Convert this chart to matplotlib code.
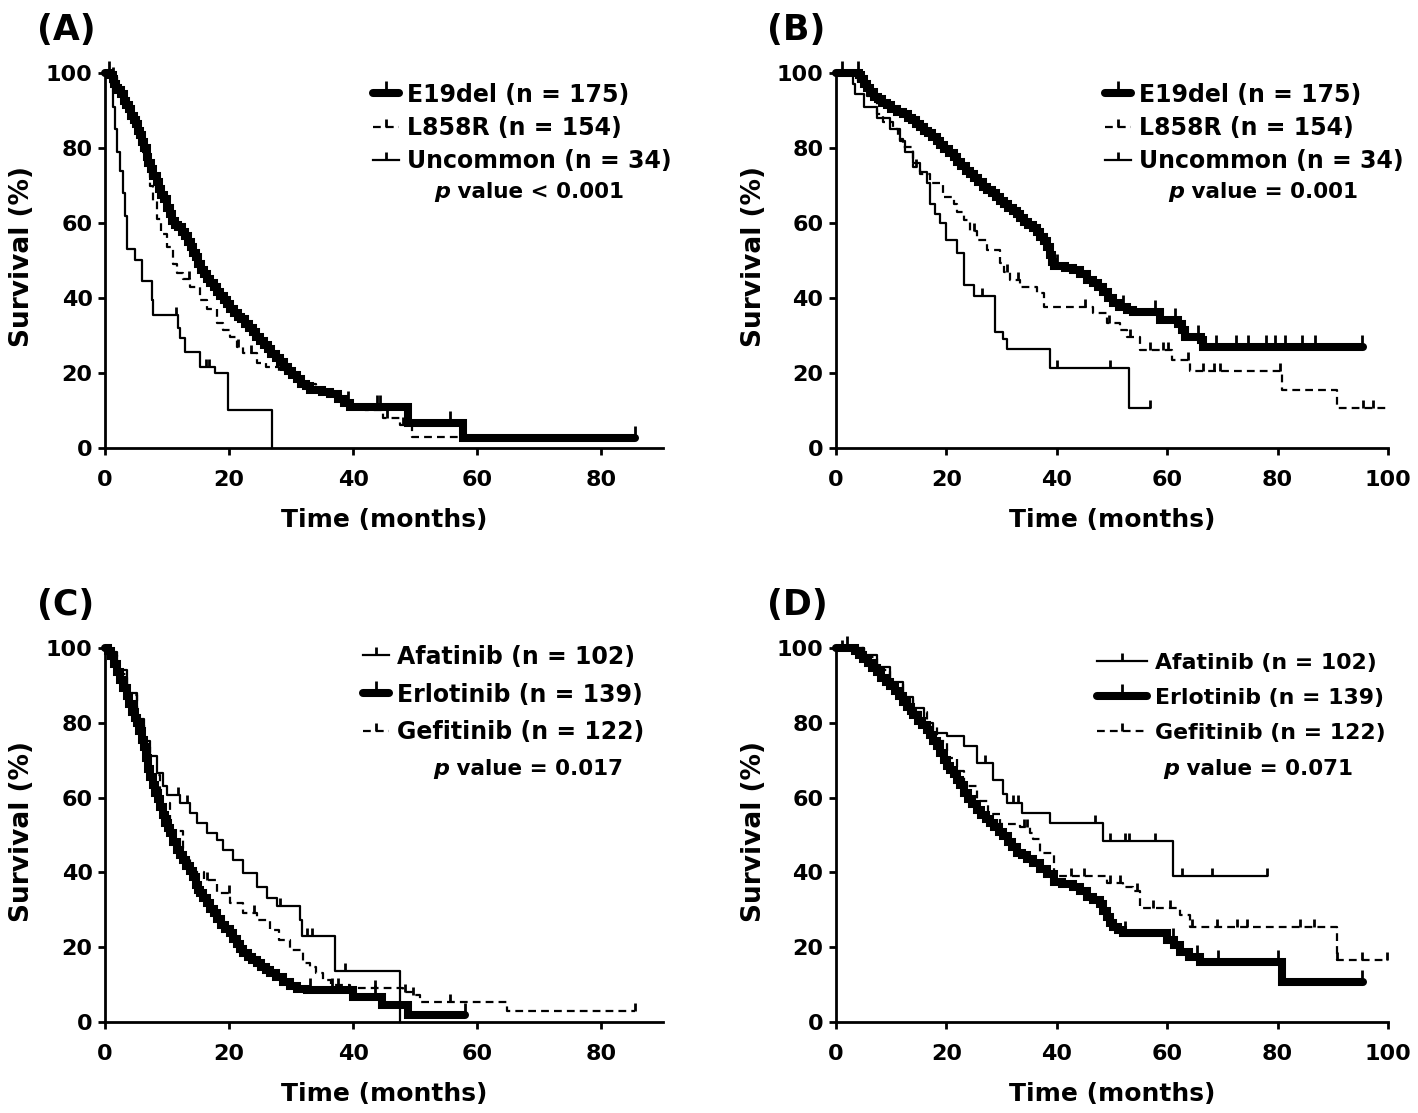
import numpy as np
import matplotlib.pyplot as plt
from matplotlib.lines import Line2D

plt.rcParams['font.family'] = 'DejaVu Sans'
plt.rcParams['font.weight'] = 'bold'

# ---- panel A (by mutation type) ----
a_e19_t = [0, 0.8, 1.2, 1.5, 1.8, 2.1, 2.5, 3.0, 3.4, 3.8, 4.2, 4.6, 5.0, 5.3, 5.6, 6.0, 6.3,
           6.7, 7.0, 7.4, 7.8, 8.3, 8.7, 9.1, 9.5, 10.0, 10.4, 10.8, 11.2, 11.8, 12.4, 12.9,
           13.4, 13.8, 14.2, 14.6, 15.0, 15.5, 15.9, 16.5, 17.0, 17.5, 18.0, 18.6, 19.2, 19.7,
           20.2, 20.8, 21.4, 22.0, 22.6, 23.2, 23.8, 24.4, 25.0, 25.6, 26.2, 26.8, 27.5, 28.2,
           28.8, 29.5, 30.2, 30.9, 31.6, 32.4, 33.1, 35.0, 36.3, 37.5, 38.5, 39.5, 48.9, 57.8]
a_e19_s = [100, 99.4, 98.3, 97.1, 96.0, 95.4, 94.3, 92.6, 91.4, 90.3, 88.6, 87.4, 86.3, 84.6,
           83.4, 81.7, 80.0, 77.7, 76.0, 74.3, 72.6, 70.9, 69.1, 67.4, 66.3, 64.0, 62.3, 60.6,
           59.4, 58.9, 57.7, 56.6, 54.9, 53.7, 52.0, 50.9, 49.1, 47.4, 46.3, 45.1, 44.0, 42.9,
           41.7, 40.6, 39.4, 38.3, 37.1, 36.0, 34.9, 34.3, 33.1, 32.0, 30.9, 29.7, 28.6, 27.4,
           26.3, 25.1, 24.0, 22.9, 21.7, 20.6, 19.4, 18.3, 17.1, 16.6, 15.4, 15.0, 14.3, 13.1,
           12.0, 10.9, 6.6, 2.7]
a_e19_end = 85.5
a_e19_cens = [0.6, 1.2, 39.2, 43.9, 44.4, 55.6, 85.5]

a_l858_t = [0, 1.0, 2.0, 3.0, 4.0, 5.0, 6.0, 7.2, 7.8, 8.3, 9.0, 9.95, 11.0, 11.6, 12.5, 13.7,
            15.3, 16.5, 18.0, 19.0, 20.2, 21.2, 22.3, 24.5, 26.0, 28.0, 30.0, 32.0, 34.0,
            36.0, 38.0, 40.0, 42.0, 44.8, 47.6, 49.5]
a_l858_s = [100, 99, 96, 92, 88, 84, 79, 70, 66, 61, 57, 53.5, 49, 46.6, 45, 43,
            39.5, 37, 33.2, 31.5, 29.7, 27, 25.2, 22.6, 21.5, 20.5, 19, 17, 15,
            14, 12.5, 11, 10, 8, 6.1, 3.0]
a_l858_end = 58.0
a_l858_cens = [13.5, 21.5, 23.5, 45.5, 48.0, 57.5]

a_unc_t = [0, 1.0, 1.3, 1.6, 2.0, 2.4, 2.9, 3.2, 3.5, 4.8, 5.9, 7.5, 7.8, 11.8, 12.1, 12.9,
           15.3, 17.7, 19.9, 27.0]
a_unc_s = [100, 97, 91, 85, 79, 74, 68, 62, 53, 50, 44.4, 39.5, 35.5, 31.9, 29.2, 25.7,
           21.7, 19.9, 10.1, 0]
a_unc_end = 27.0
a_unc_cens = [11.5, 16.2, 16.8]

# ---- panel B (by mutation type) ----
b_e19_t = [0, 3.7, 4.2, 4.6, 5.0, 5.6, 6.2, 6.9, 7.6, 8.4, 9.2, 10.0, 11.0, 12.2, 13.0, 13.8,
           14.5, 15.2, 15.9, 16.6, 17.4, 18.2, 18.9, 19.6, 20.4, 21.3, 22.0, 22.7, 23.5, 24.3,
           25.0, 25.8, 26.6, 27.4, 28.2, 29.0, 29.7, 30.4, 31.2, 32.0, 32.7, 33.4, 34.1, 34.8,
           35.6, 36.4, 37.0, 37.6, 38.2, 38.7, 39.1, 39.5, 41.5, 43.0, 44.2, 45.4, 46.5, 47.5,
           48.4, 49.2, 50.2, 51.2, 52.7, 53.8, 58.7, 62.0, 62.6, 63.2, 66.1, 66.5]
b_e19_s = [100, 100, 99.4, 98.3, 97.1, 96.0, 94.9, 93.7, 93.1, 92.0, 91.4, 90.3, 89.7, 89.1,
           88.0, 87.4, 86.3, 85.7, 84.6, 84.0, 82.9, 82.0, 80.9, 79.7, 78.6, 77.5, 76.3, 75.2,
           74.0, 73.1, 72.0, 70.9, 69.7, 68.8, 68.0, 66.9, 66.0, 65.0, 64.0, 63.2, 62.3, 61.4,
           60.3, 59.5, 58.6, 57.7, 56.3, 55.1, 53.7, 51.4, 49.7, 48.6, 48.0, 47.4, 46.3, 44.9,
           44.0, 42.9, 41.7, 40.0, 38.6, 37.7, 36.8, 36.3, 34.1, 33.0, 31.5, 29.7, 28.8, 27.0]
b_e19_end = 95.5
b_e19_cens = [1.0, 4.0, 40.0, 52.0, 57.8, 61.4, 65.6, 68.8, 72.5, 74.6, 77.9, 79.5, 81.3,
              84.4, 86.8, 95.2]

b_l858_t = [0, 3.0, 4.0, 5.0, 5.6, 7.4, 8.5, 10.4, 11.2, 12.2, 14.0, 15.2, 17.0, 19.4, 21.3,
            22.0, 23.1, 24.3, 25.5, 27.3, 29.7, 30.5, 31.5, 33.3, 36.4, 37.6, 46.6, 49.0,
            51.4, 52.7, 55.1, 60.8, 64.1, 80.7, 90.7]
b_l858_s = [100, 100, 98, 96, 94, 89, 87, 85, 82.5, 80.3, 75, 73.2, 70.6, 67, 65.2,
            63, 60.8, 58, 55.5, 52.8, 49.2, 47, 44.8, 43, 41.2, 37.7, 35.9, 33.2,
            31.5, 29.7, 26.1, 23.5, 20.4, 15.5, 10.6]
b_l858_end = 99.8
b_l858_cens = [14.5, 25.0, 31.0, 33.0, 45.1, 49.4, 53.3, 56.9, 59.3, 60.2, 63.8, 66.5, 68.4,
               69.6, 80.4, 95.5, 97.3]

b_unc_t = [0, 2.8, 3.1, 3.5, 5.0, 7.4, 9.8, 11.6, 12.5, 14.0, 15.2, 16.4, 17.0, 18.0, 18.8,
           20.0, 21.9, 23.1, 24.9, 28.8, 30.3, 30.9, 38.8, 53.0]
b_unc_s = [100, 100, 97, 94.5, 91, 88, 85, 82, 79, 76, 73.5, 70.6, 65, 62.5, 60,
           55.5, 52, 43.5, 40.5, 31, 29, 26.5, 21.3, 10.6]
b_unc_end = 56.9
b_unc_cens = [26.4, 40.0, 49.6, 56.9]

# ---- panel C (by drug) ----
c_afa_t = [0, 0.5, 1.9, 3.5, 5.1, 6.2, 7.3, 8.3, 9.4, 10.0, 12.1, 13.7, 14.8, 16.4, 18.0, 19.1,
           20.7, 22.3, 24.5, 26.1, 27.7, 31.5, 31.7, 37.1, 47.6]
c_afa_s = [100, 99, 94, 88, 81, 75, 71, 66.6, 63, 60.8, 58.6, 55.9, 53.2, 50.5, 48.7, 46,
           43.4, 39.8, 36.2, 33.1, 30.9, 27.3, 23, 13.7, 0]
c_afa_end = 47.6
c_afa_cens = [11.8, 13.2, 28.2, 32.5, 33.3, 38.7]

c_erl_t = [0, 0.5, 1.0, 1.5, 1.9, 2.4, 2.9, 3.5, 3.9, 4.4, 4.8, 5.1, 5.5, 5.9, 6.2, 6.6, 6.9,
           7.3, 7.7, 8.1, 8.5, 8.9, 9.3, 9.7, 10.1, 10.5, 11.0, 11.6, 12.1, 12.6, 13.1, 13.7,
           14.2, 14.6, 15.0, 15.3, 15.8, 16.4, 17.0, 17.5, 18.1, 18.7, 19.4, 20.2, 20.7, 21.3,
           21.8, 22.3, 23.0, 23.7, 24.5, 25.2, 25.9, 26.6, 27.6, 28.7, 29.8, 31.0, 32.5, 40.0,
           44.6, 48.9]
c_erl_s = [100, 99.3, 97.8, 95.7, 93.5, 91.4, 89.2, 87.1, 85.0, 82.8, 81.3, 79.9, 77.7, 75.5,
           73.4, 70.5, 67.6, 65.5, 63.3, 61.2, 59.7, 57.6, 55.4, 53.2, 51.8, 50.4, 48.2, 46.0,
           44.6, 43.2, 41.7, 40.3, 38.8, 36.7, 35.3, 34.5, 33.1, 31.7, 30.2, 29.1, 27.4, 26.0,
           24.9, 23.7, 22.3, 20.9, 19.4, 18.4, 17.3, 16.5, 15.7, 14.6, 13.8, 13.0, 12.0, 10.6,
           9.5, 8.9, 8.6, 6.8, 4.6, 1.9]
c_erl_end = 58.1
c_erl_cens = [33.1, 36.6, 37.6, 43.5, 58.1]

c_gef_t = [0, 1.0, 2.0, 3.5, 5.1, 6.2, 7.3, 8.9, 10.5, 12.6, 13.7, 15.9, 18.0, 20.2, 22.3, 24.5,
           26.6, 28.0, 29.8, 32.0, 33.1, 34.1, 35.2, 36.5, 39.5, 48.1, 49.7, 50.8, 64.8]
c_gef_s = [100, 98, 93, 87.5, 80.5, 73.5, 66, 58.5, 51, 44, 40, 38, 34.5, 31.8, 29.1, 27.3,
           24.6, 22, 19.3, 15.7, 14.8, 13, 11.2, 10, 9.0, 8.1, 7.2, 5.4, 2.8]
c_gef_end = 85.5
c_gef_cens = [16.5, 20.0, 24.0, 43.5, 48.4, 49.7, 55.6, 85.5]

# ---- panel D (by drug) ----
d_afa_t = [0, 3.0, 5.0, 7.4, 9.8, 12.2, 14.0, 16.0, 17.6, 20.1, 23.1, 25.5, 28.5, 30.3, 30.9,
           33.6, 38.8, 48.4, 61.1]
d_afa_s = [100, 100, 98, 95, 91, 87, 84, 80, 77.3, 76.4, 73.7, 69.3, 64.8, 61, 58.6,
           56, 53.2, 48.5, 38.9]
d_afa_end = 78.0
d_afa_cens = [1.0, 27.0, 32.0, 33.0, 46.9, 49.6, 52.4, 53.0, 57.8, 62.6, 68.1, 78.0]

d_erl_t = [0, 2.5, 3.5, 4.2, 4.9, 5.7, 6.5, 7.4, 8.2, 9.0, 9.8, 10.6, 11.4, 12.2, 12.9, 13.5,
           14.0, 14.8, 15.6, 16.4, 17.0, 17.6, 18.2, 18.8, 19.5, 20.1, 20.7, 21.3, 21.9, 22.5,
           23.1, 23.9, 24.7, 25.5, 26.3, 27.1, 27.9, 28.7, 29.5, 30.3, 31.1, 31.9, 32.7, 33.6,
           34.6, 35.7, 36.9, 38.2, 39.4, 41.0, 43.0, 44.2, 45.4, 46.6, 47.8, 48.4, 49.0, 49.6,
           50.2, 51.0, 52.0, 59.9, 61.2, 62.3, 64.0, 65.9, 80.7]
d_erl_s = [100, 100, 99.3, 98.2, 97.1, 96.0, 94.6, 93.5, 92.1, 91.0, 89.9, 88.5, 87.1, 85.6,
           84.2, 83.1, 82.0, 80.6, 79.5, 78.1, 76.6, 75.2, 73.7, 71.9, 70.1, 68.4, 67.3, 66.2,
           64.8, 63.3, 61.2, 59.7, 58.3, 56.8, 55.4, 54.3, 53.2, 52.1, 50.7, 49.6, 48.2, 46.7,
           45.3, 44.6, 43.5, 42.5, 41.0, 39.6, 37.5, 36.8, 36.0, 34.9, 33.5, 32.6, 31.5, 29.8,
           28.0, 26.4, 25.5, 24.6, 23.7, 22.0, 20.5, 18.8, 17.5, 16.1, 10.8]
d_erl_end = 95.5
d_erl_cens = [2.0, 52.4, 61.1, 65.3, 69.2, 80.0, 95.2]

d_gef_t = [0, 3.0, 5.0, 7.4, 9.8, 12.2, 14.0, 16.4, 18.2, 20.1, 21.9, 23.1, 25.5, 27.5, 29.7,
           33.3, 35.1, 35.7, 37.0, 39.4, 49.0, 52.0, 53.8, 55.1, 62.3, 64.1, 90.7]
d_gef_s = [100, 100, 97.5, 94, 90.5, 86.5, 83, 79, 75, 70.5, 67, 63, 59, 55.5, 53,
           52, 50.5, 49, 45.2, 38.9, 37.1, 36.2, 34.9, 30.5, 28.6, 25.3, 16.6]
d_gef_end = 100.0
d_gef_cens = [34.0, 34.5, 42.5, 45.0, 49.6, 51.4, 54.5, 57.4, 60.5, 64.4, 69.0, 72.6, 74.4,
              84.1, 86.5, 90.7, 95.2, 99.8]

mut_labels = ['E19del (n = 175)', 'L858R (n = 154)', 'Uncommon (n = 34)']
drug_labels = ['Afatinib (n = 102)', 'Erlotinib (n = 139)', 'Gefitinib (n = 122)']
p_texts = ['value < 0.001', 'value = 0.001', 'value = 0.017', 'value = 0.071']
panel_tags = ['(A)', '(B)', '(C)', '(D)']

THICK = dict(color='black', lw=5.8, ls='-', solid_capstyle='round', solid_joinstyle='miter')
THIN = dict(color='black', lw=1.6, ls='-')
DASH = dict(color='black', lw=1.6, ls=(0, (3.5, 2.3)))


def km(ax, t, s, t_end, cens, style):
    tt = np.append(t, t_end)
    ss = np.append(s, s[-1])
    ax.plot(tt, ss, drawstyle='steps-post', clip_on=False, zorder=3, **style)
    idx = np.searchsorted(tt, cens, side='right') - 1
    ms = 9 if style['lw'] > 3 else 6
    ax.plot(cens, ss[idx], ls='none', marker=2, ms=ms, mew=2.0, color='black',
            clip_on=False, zorder=3)


fig = plt.figure(figsize=(14.18, 11.13), dpi=100)
boxes = [(0.0741, 0.5975, 0.3935, 0.3369), (0.5896, 0.5975, 0.3893, 0.3369),
         (0.0741, 0.0818, 0.3935, 0.3360), (0.5896, 0.0818, 0.3893, 0.3360)]
axs = [fig.add_axes(b) for b in boxes]

km(axs[0], a_e19_t, a_e19_s, a_e19_end, a_e19_cens, THICK)
km(axs[0], a_l858_t, a_l858_s, a_l858_end, a_l858_cens, DASH)
km(axs[0], a_unc_t, a_unc_s, a_unc_end, a_unc_cens, THIN)

km(axs[1], b_e19_t, b_e19_s, b_e19_end, b_e19_cens, THICK)
km(axs[1], b_l858_t, b_l858_s, b_l858_end, b_l858_cens, DASH)
km(axs[1], b_unc_t, b_unc_s, b_unc_end, b_unc_cens, THIN)

km(axs[2], c_afa_t, c_afa_s, c_afa_end, c_afa_cens, THIN)
km(axs[2], c_erl_t, c_erl_s, c_erl_end, c_erl_cens, THICK)
km(axs[2], c_gef_t, c_gef_s, c_gef_end, c_gef_cens, DASH)

km(axs[3], d_afa_t, d_afa_s, d_afa_end, d_afa_cens, THIN)
km(axs[3], d_erl_t, d_erl_s, d_erl_end, d_erl_cens, THICK)
km(axs[3], d_gef_t, d_gef_s, d_gef_end, d_gef_cens, DASH)

leg_styles = [[THICK, DASH, THIN], [THICK, DASH, THIN], [THIN, THICK, DASH], [THIN, THICK, DASH]]
leg_labels = [mut_labels, mut_labels, drug_labels, drug_labels]
leg_anchor = [(0.48, 0.974), (0.487, 0.974), (0.462, 1.009), (0.472, 0.987)]
leg_hlen = [1.1, 1.1, 1.1, 2.3]
leg_size = [17, 17, 17, 15.8]
leg_space = [0.39, 0.39, 0.59, 0.68]
p_pos = [(0.59, 0.683), (0.601, 0.683), (0.588, 0.676), (0.592, 0.676)]
tag_pos = [(0.026, 0.973), (0.541, 0.973), (0.026, 0.456), (0.541, 0.456)]

for i, ax in enumerate(axs):
    ax.set_xlim(0, 90 if i % 2 == 0 else 100)
    ax.set_ylim(0, 100)
    ax.set_xticks(np.arange(0, 90 if i % 2 == 0 else 101, 20))
    ax.set_yticks(np.arange(0, 101, 20))
    for side in ['top', 'right']:
        ax.spines[side].set_visible(False)
    for side in ['left', 'bottom']:
        ax.spines[side].set_linewidth(2.0)
    ax.tick_params(direction='out', length=5, width=2.0, labelsize=16, pad=4)
    ax.tick_params(axis='x', pad=11)
    for lab in ax.get_xticklabels() + ax.get_yticklabels():
        lab.set_fontweight('bold')
    ax.set_xlabel('Time (months)', fontsize=18, fontweight='bold')
    ax.set_ylabel('Survival (%)', fontsize=19, fontweight='bold', va='center')
    ax.xaxis.set_label_coords(0.5, -0.16)
    ax.yaxis.set_label_coords(-0.149, 0.51)

    hs = [Line2D([], [], marker=2, ms=(9 if st['lw'] > 3 else 6), mew=2.0, **st)
          for st in leg_styles[i]]
    ax.legend(hs, leg_labels[i], loc='upper left', bbox_to_anchor=leg_anchor[i],
              frameon=False, handlelength=leg_hlen[i], handletextpad=0.35,
              borderpad=0, borderaxespad=0, labelspacing=leg_space[i], numpoints=1,
              prop={'weight': 'bold', 'size': leg_size[i]})

    ptxt = ax.text(p_pos[i][0], p_pos[i][1], 'p', transform=ax.transAxes, fontsize=16,
                   fontweight='bold', fontstyle='italic', va='center', ha='left')
    ax.annotate(' ' + p_texts[i], xy=(1, 0), xycoords=ptxt, va='bottom', ha='left',
                fontsize=15.5, fontweight='bold')

    fig.text(tag_pos[i][0], tag_pos[i][1], panel_tags[i], fontsize=25, fontweight='bold',
             va='center', ha='left')

fig.savefig('out.png', dpi=100)
